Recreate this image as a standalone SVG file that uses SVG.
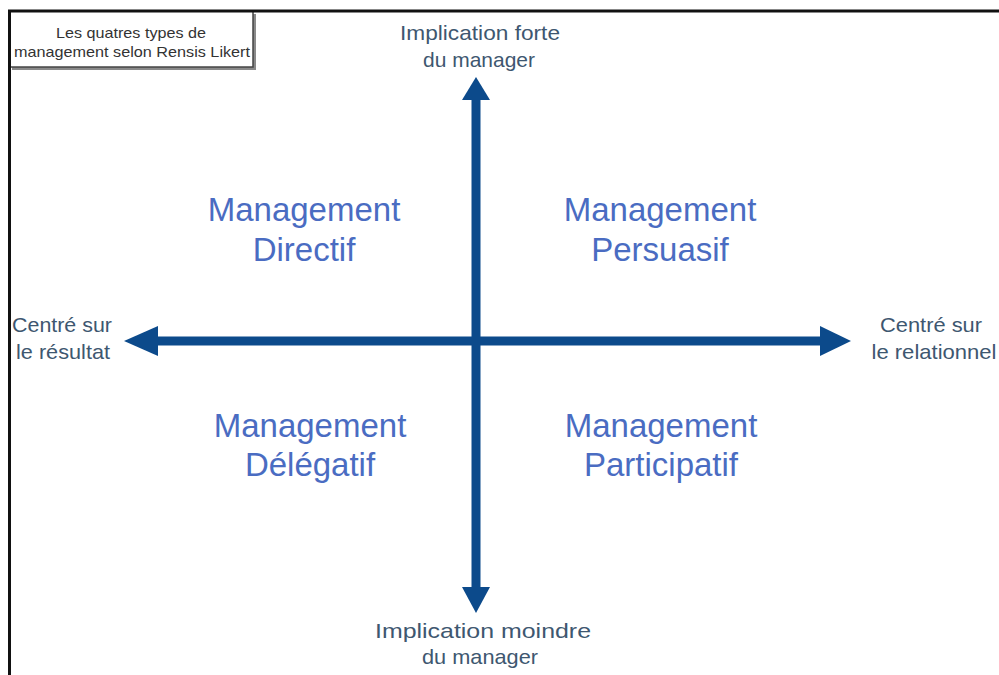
<svg xmlns="http://www.w3.org/2000/svg" width="999" height="675" viewBox="0 0 999 675">
  <defs>
    <style>
      .frame { fill: none; stroke: #111; stroke-width: 3; }
      .axis { stroke: #0c4a8b; stroke-width: 9; fill: none; }
      .head { fill: #0c4a8b; }
      .axlbl { font-family: "Liberation Sans", Arial, sans-serif; font-size: 21px; fill: #3e5770; text-anchor: middle; }
      .quad { font-family: "Liberation Sans", Arial, sans-serif; font-size: 33px; fill: #4a6cc2; text-anchor: middle; }
      .title { font-family: "Liberation Sans", Arial, sans-serif; font-size: 15px; fill: #333; text-anchor: middle; }
    </style>
  </defs>
  <rect width="999" height="675" fill="#fff"/>

  <!-- title box with drop shadow -->
  <g id="title">
    <rect x="12" y="14" width="244" height="56" fill="#8a8a8a"/>
    <rect x="9" y="11" width="244" height="56" fill="#fff" stroke="#444" stroke-width="1.5"/>
    <text class="title" x="131" y="38" textLength="150" lengthAdjust="spacingAndGlyphs">Les quatres types de</text>
    <text class="title" x="132" y="57" textLength="236" lengthAdjust="spacingAndGlyphs">management selon Rensis Likert</text>
  </g>

  <!-- page frame: top and left edges -->
  <path class="frame" d="M999,11 H9.5 V675"/>

  <!-- axes -->
  <g id="connectors">
    <line class="axis" x1="476" y1="98" x2="476" y2="590"/>
    <polygon class="head" points="476,77 462,100 490,100"/>
    <polygon class="head" points="476,613 462,587 490,587"/>
    <line class="axis" x1="152" y1="341" x2="826" y2="341"/>
    <polygon class="head" points="124,341 158,326 158,356"/>
    <polygon class="head" points="851,341 820,326 820,356"/>
  </g>

  <g id="axis-top">
    <text class="axlbl" x="480" y="40" textLength="160" lengthAdjust="spacingAndGlyphs">Implication forte</text>
    <text class="axlbl" x="479" y="67" textLength="112" lengthAdjust="spacingAndGlyphs">du manager</text>
  </g>
  <g id="axis-bottom">
    <text class="axlbl" x="483" y="638" textLength="216" lengthAdjust="spacingAndGlyphs">Implication moindre</text>
    <text class="axlbl" x="480" y="664" textLength="116" lengthAdjust="spacingAndGlyphs">du manager</text>
  </g>
  <g id="axis-left">
    <text class="axlbl" x="62" y="332" textLength="100" lengthAdjust="spacingAndGlyphs">Centré sur</text>
    <text class="axlbl" x="63" y="359" textLength="94" lengthAdjust="spacingAndGlyphs">le résultat</text>
  </g>
  <g id="axis-right">
    <text class="axlbl" x="931" y="332" textLength="102" lengthAdjust="spacingAndGlyphs">Centré sur</text>
    <text class="axlbl" x="934" y="359" textLength="125" lengthAdjust="spacingAndGlyphs">le relationnel</text>
  </g>

  <g id="q-directif">
    <text class="quad" x="304" y="221">Management</text>
    <text class="quad" x="304" y="261">Directif</text>
  </g>
  <g id="q-persuasif">
    <text class="quad" x="660" y="221">Management</text>
    <text class="quad" x="660" y="261">Persuasif</text>
  </g>
  <g id="q-delegatif">
    <text class="quad" x="310" y="437">Management</text>
    <text class="quad" x="310" y="476">Délégatif</text>
  </g>
  <g id="q-participatif">
    <text class="quad" x="661" y="437">Management</text>
    <text class="quad" x="661" y="476">Participatif</text>
  </g>
</svg>
